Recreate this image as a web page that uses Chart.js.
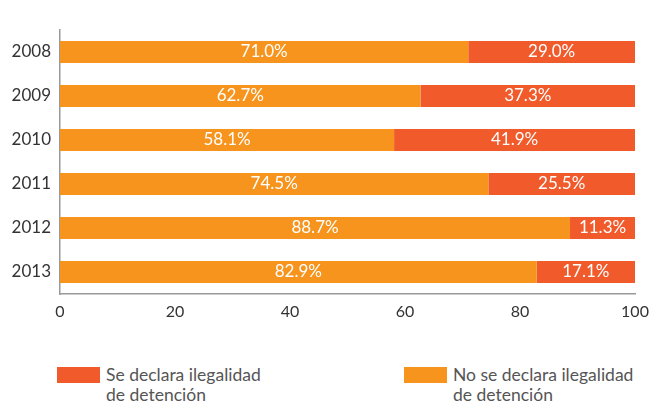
<!DOCTYPE html>
<html>
<head>
<meta charset="utf-8">
<script src="https://cdn.jsdelivr.net/npm/chart.js@4"></script>
<style>
  body { margin: 0; background: #fff; }
  #wrap { position: relative; width: 651px; height: 405px; }
  #chartBox { position: absolute; left: 0; top: 0; width: 651px; height: 330px; }
  .leg { position: absolute; top: 367px; font-family: Lato, "Noto Sans", sans-serif; font-size: 17.5px; line-height: 20px; color: #555; }
  .leg span.sw { position: absolute; left: 0; top: 0; width: 43px; height: 16px; }
  .leg div { margin-left: 49px; margin-top: -2px; }
</style>
</head>
<body>
<div id="wrap">
  <div id="chartBox"><canvas id="c"></canvas></div>
  <div class="leg" style="left:57px"><span class="sw" style="background:#F15A2B"></span><div>Se declara ilegalidad<br>de detención</div></div>
  <div class="leg" style="left:404px"><span class="sw" style="background:#F7941D"></span><div>No se declara ilegalidad<br>de detención</div></div>
</div>
<script>
// años
const years = ['2008', '2009', '2010', '2011', '2012', '2013'];
// No se declara ilegalidad de detención (%)
const noDeclara = [71.0, 62.7, 58.1, 74.5, 88.7, 82.9];
// Se declara ilegalidad de detención (%)
const siDeclara = [29.0, 37.3, 41.9, 25.5, 11.3, 17.1];
const xTicks = [0, 20, 40, 60, 80, 100];

const colorNo = '#F7941D';
const colorSi = '#F15A2B';

// etiquetas dentro de las barras
const barLabels = {
    id: 'barLabels',
    afterDatasetsDraw(chart) {
        const ctx = chart.ctx;
        ctx.save();
        ctx.fillStyle = '#fff';
        ctx.font = '17px Lato, "Noto Sans", sans-serif';
        ctx.textAlign = 'center';
        ctx.textBaseline = 'middle';
        chart.data.datasets.forEach((ds, i) => {
            chart.getDatasetMeta(i).data.forEach((bar, j) => {
                const x = (bar.x + bar.base) / 2;
                ctx.fillText(ds.data[j].toFixed(1) + '%', x, bar.y);
            });
        });
        ctx.restore();
    }
};

new Chart(document.getElementById('c'), {
    type: 'bar',
    data: {
        labels: years,
        datasets: [
            { label: 'No se declara ilegalidad de detención', data: noDeclara, backgroundColor: colorNo,
              categoryPercentage: 1, barPercentage: 0.5 },
            { label: 'Se declara ilegalidad de detención', data: siDeclara, backgroundColor: colorSi,
              categoryPercentage: 1, barPercentage: 0.5 }
        ]
    },
    options: {
        indexAxis: 'y',
        responsive: true,
        maintainAspectRatio: false,
        animation: false,
        layout: { padding: { top: 30, right: 16, left: 0, bottom: 0 } },
        plugins: { legend: { display: false }, tooltip: { enabled: false } },
        scales: {
            x: {
                stacked: true,
                min: 0, max: 100,
                afterBuildTicks: s => { s.ticks = xTicks.map(v => ({ value: v })); },
                afterFit: s => { s.height = 36; s.paddingRight = 0; },
                grid: { display: false, drawTicks: false },
                border: { color: '#999', width: 1.5 },
                ticks: { padding: 8, color: '#333', font: { family: 'Lato, "Noto Sans", sans-serif', size: 16 } }
            },
            y: {
                stacked: true,
                afterFit: s => { s.width = 60; },
                grid: { display: false, drawTicks: false },
                border: { color: '#999', width: 1.5 },
                ticks: { padding: 9, color: '#333', font: { family: 'Lato, "Noto Sans", sans-serif', size: 17 } }
            }
        }
    },
    plugins: [barLabels]
});
</script>
</body>
</html>
